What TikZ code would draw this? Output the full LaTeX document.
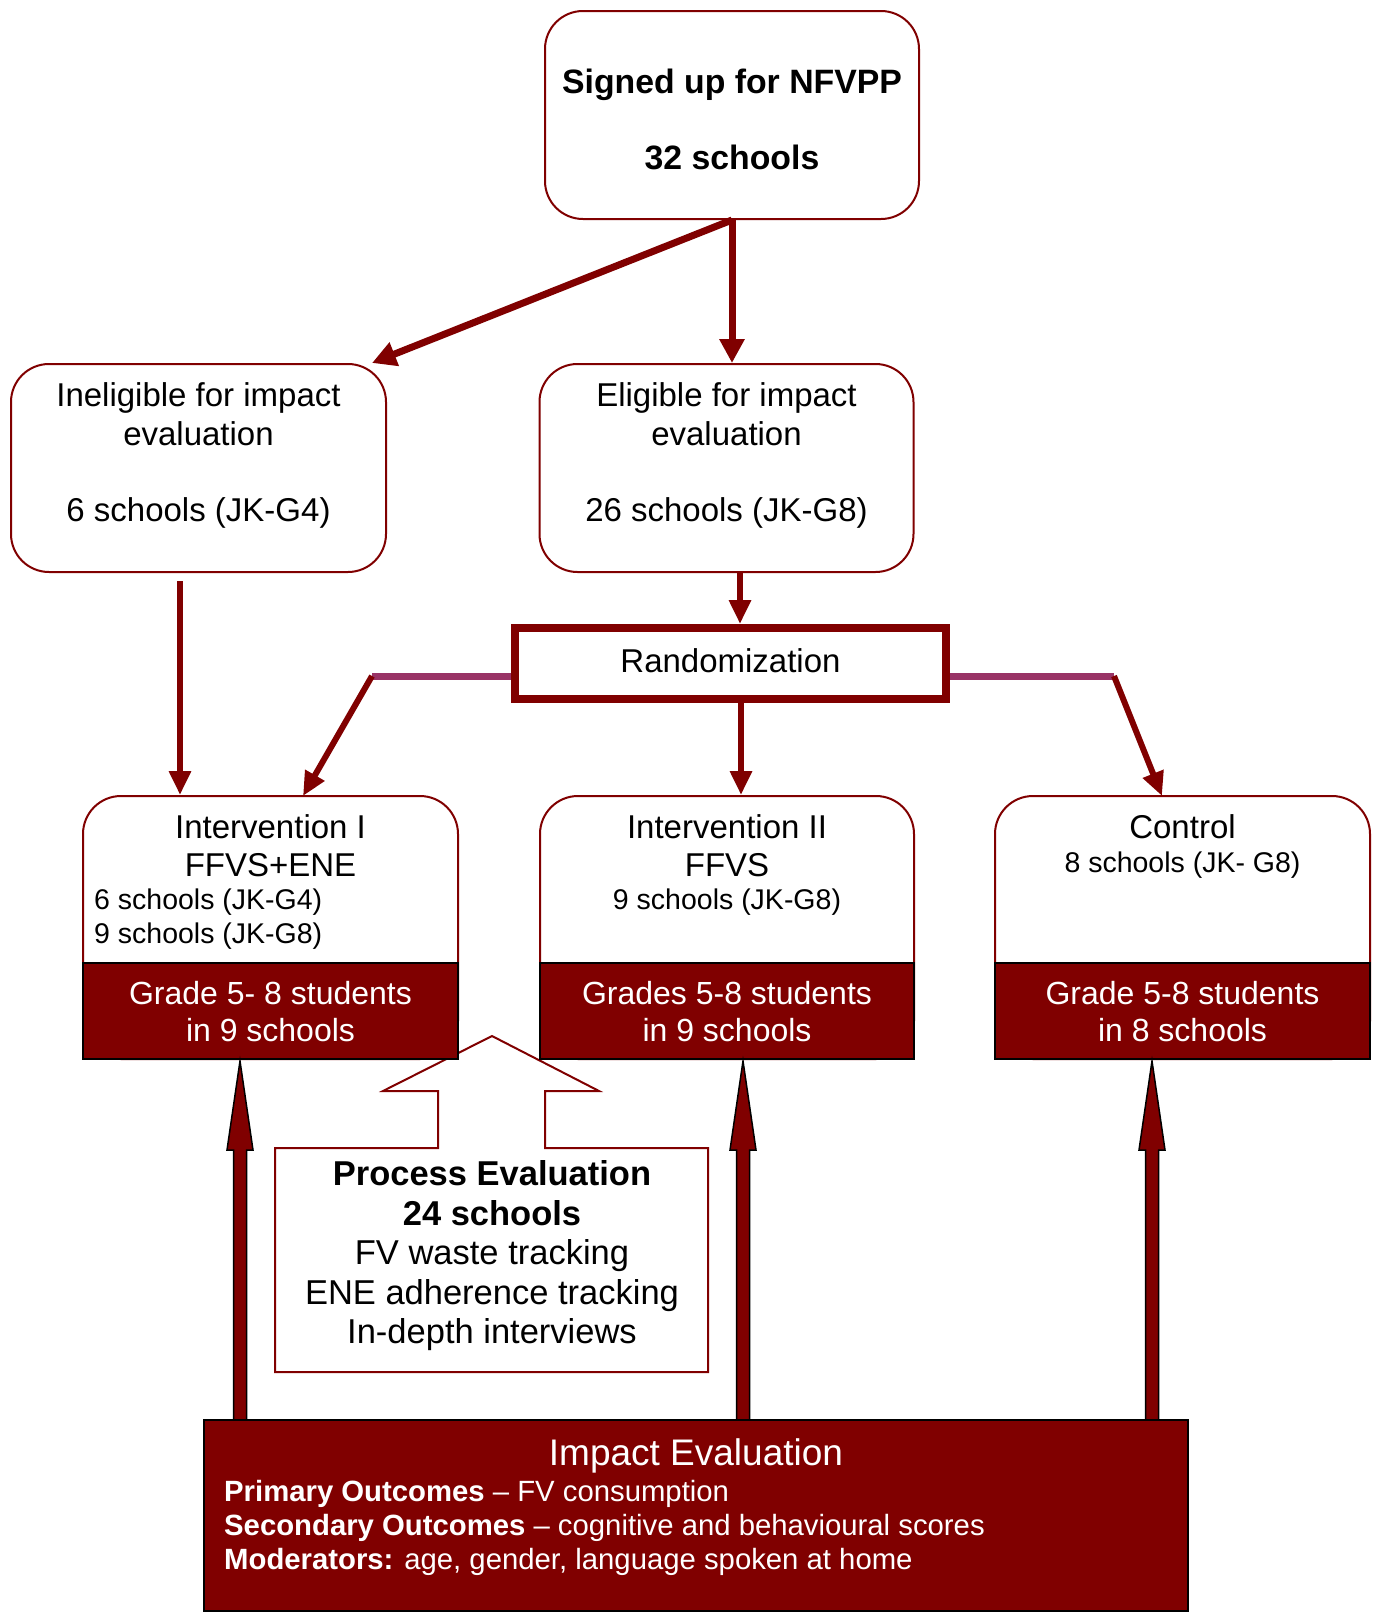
\documentclass[tikz,border=0pt]{standalone}
\usepackage{fontspec}
\setmainfont{Liberation Sans}
\usetikzlibrary{arrows.meta}
\definecolor{mred}{HTML}{800000}
\definecolor{mpurple}{HTML}{993366}
\newcommand\fsz[1]{\fontsize{#1}{#1}\selectfont}
\tikzset{
  rbox/.style={draw=mred, line width=2pt, fill=white, rounded corners=38pt, inner sep=0pt},
  band/.style={draw=black, line width=2.5pt, fill=mred, inner sep=0pt},
  txt/.style={inner sep=0pt, font=\fsz{33}},
  stxt/.style={inner sep=0pt, font=\fsz{28.5}},
  wtxt/.style={inner sep=0pt, text=white, font=\fsz{32}},
  conn/.style={draw=mred, line width=6pt, -{Triangle[length=24pt,width=21pt]}},
  bconn/.style={conn, line width=7pt, -{Triangle[length=24pt,width=24pt]}},
  purp/.style={draw=mpurple, line width=7pt},
  blockarrow/.style={fill=mred, draw=black, line width=1.5pt, line join=miter},
  callout/.style={fill=white, draw=mred, line width=2pt},
}
\begin{document}
\begin{tikzpicture}[x=1pt,y=-1pt]
\useasboundingbox (0,0) rectangle (1376,1612);

% ---- top row boxes
\node[rbox, minimum width=374pt, minimum height=208pt] (top) at (732,115) {};
\node[txt, font={\fsz{33.8}\bfseries}] (t1) at (732,85) {Signed up for NFVPP};
\node[txt, font={\fsz{33.8}\bfseries}] (t2) at (732,157) {32 schools};

\node[rbox, minimum width=375pt, minimum height=208pt] (inel) at (198.5,468) {};
\node[txt] (inel1) at (198.5,398) {Ineligible for impact};
\node[txt] (inel2) at (198.5,434) {evaluation};
\node[txt] (inel3) at (198.5,513) {6 schools (JK-G4)};

\node[rbox, minimum width=374pt, minimum height=208pt] (elig) at (726.5,468) {};
\node[txt] (elig1) at (726.5,398) {Eligible for impact};
\node[txt] (elig2) at (726.5,434) {evaluation};
\node[txt] (elig3) at (726.5,513) {26 schools (JK-G8)};

% ---- randomization
\coordinate (pl) at (372,676);
\coordinate (pr) at (1114,676);
\coordinate (rl) at (520,676);
\coordinate (rr) at (940,676);
\draw[purp] (rl) -- (pl);
\draw[purp] (rr) -- (pr);
\node[draw=mred, line width=8pt, fill=white, minimum width=431pt, minimum height=71pt, inner sep=0pt] (rand) at (730.5,663.5) {};
\node[txt] (randt) at (730.5,661) {Randomization};

% ---- process evaluation callout (drawn below the group boxes)
\path[callout] (275,1148) -- (438,1148) -- (438,1091) -- (383,1091) -- (492,1036) -- (599,1091)
  -- (545,1091) -- (545,1148) -- (708,1148) -- (708,1372) -- (275,1372) -- cycle;
\node[inner sep=0pt, font={\fsz{34.5}\bfseries}] (pe1) at (492,1173) {Process Evaluation};
\node[inner sep=0pt, font={\fsz{34.5}\bfseries}] (pe2) at (492,1213) {24 schools};
\node[inner sep=0pt, font=\fsz{34.5}] (pe3) at (492,1256) {FV waste tracking};
\node[inner sep=0pt, font=\fsz{34.5}] (pe4) at (492,1296) {ENE adherence tracking};
\node[inner sep=0pt, font=\fsz{34.5}] (pe5) at (492,1335) {In-depth interviews};

% ---- group boxes
\node[rbox, minimum width=375pt, minimum height=263pt] (int1) at (270.5,927.5) {};
\node[band, minimum width=375pt, minimum height=96pt] (band1) at (270.5,1011) {};
\node[txt] (i1a) at (270.5,827) {Intervention I};
\node[txt] (i1b) at (270.5,865) {FFVS+ENE};
\node[stxt, anchor=west] (i1c) at (94,902) {6 schools (JK-G4)};
\node[stxt, anchor=west] (i1d) at (94,936) {9 schools (JK-G8)};
\node[wtxt] (b1a) at (270.5,993) {Grade 5- 8 students};
\node[wtxt] (b1b) at (270.5,1030) {in 9 schools};

\node[rbox, minimum width=374pt, minimum height=263pt] (int2) at (727,927.5) {};
\node[band, minimum width=374pt, minimum height=96pt] (band2) at (727,1011) {};
\node[txt] (i2a) at (727,827) {Intervention II};
\node[txt] (i2b) at (727,865) {FFVS};
\node[stxt] (i2c) at (727,902) {9 schools (JK-G8)};
\node[wtxt] (b2a) at (727,993) {Grades 5-8 students};
\node[wtxt] (b2b) at (727,1030) {in 9 schools};

\node[rbox, minimum width=375pt, minimum height=263pt] (ctrl) at (1182.5,927.5) {};
\node[band, minimum width=375pt, minimum height=96pt] (band3) at (1182.5,1011) {};
\node[txt] (c1t) at (1182.5,827) {Control};
\node[stxt] (c2t) at (1182.5,865) {8 schools (JK- G8)};
\node[wtxt] (b3a) at (1182.5,993) {Grade 5-8 students};
\node[wtxt] (b3b) at (1182.5,1030) {in 8 schools};

% ---- connectors
\coordinate (inelhit) at (372,363);
\draw[bconn] (top.south) -- (inelhit);
\draw[bconn] (top.south) -- (top.south |- elig.north);
\coordinate (ia) at (180,581);
\draw[conn] (ia) -- (ia |- int1.north);
\coordinate (ea) at (740,572);
\draw[conn] (ea) -- (ea |- rand.north);
\coordinate (ra) at (741,703);
\draw[conn] (ra) -- (ra |- int2.north);
\coordinate (c1hit) at (303,796);
\coordinate (c3hit) at (1162,796);
\draw[conn] (pl) -- (c1hit);
\draw[conn] (pr) -- (c3hit);

% ---- upward block arrows from impact evaluation
\foreach \xc in {240,743,1152}{
  \path[blockarrow] (\xc-6.5,1422) -- (\xc-6.5,1150) -- (\xc-13,1150) -- (\xc,1061)
    -- (\xc+13,1150) -- (\xc+6.5,1150) -- (\xc+6.5,1422) -- cycle;
}

% ---- impact evaluation
\node[band, minimum width=984pt, minimum height=191pt] (impact) at (696,1515.5) {};
\node[wtxt, font=\fsz{37}] (im0) at (696,1456) {Impact Evaluation};
\node[wtxt, font=\fsz{29.3}, anchor=west] (im1) at (224,1494) {\textbf{Primary Outcomes} – FV consumption};
\node[wtxt, font=\fsz{29.3}, anchor=west] (im2) at (224,1528) {\textbf{Secondary Outcomes} – cognitive and behavioural scores};
\node[wtxt, font=\fsz{29.3}, anchor=west] (im3) at (224,1562) {\textbf{Moderators:} age, gender, language spoken at home};
\end{tikzpicture}
\end{document}
